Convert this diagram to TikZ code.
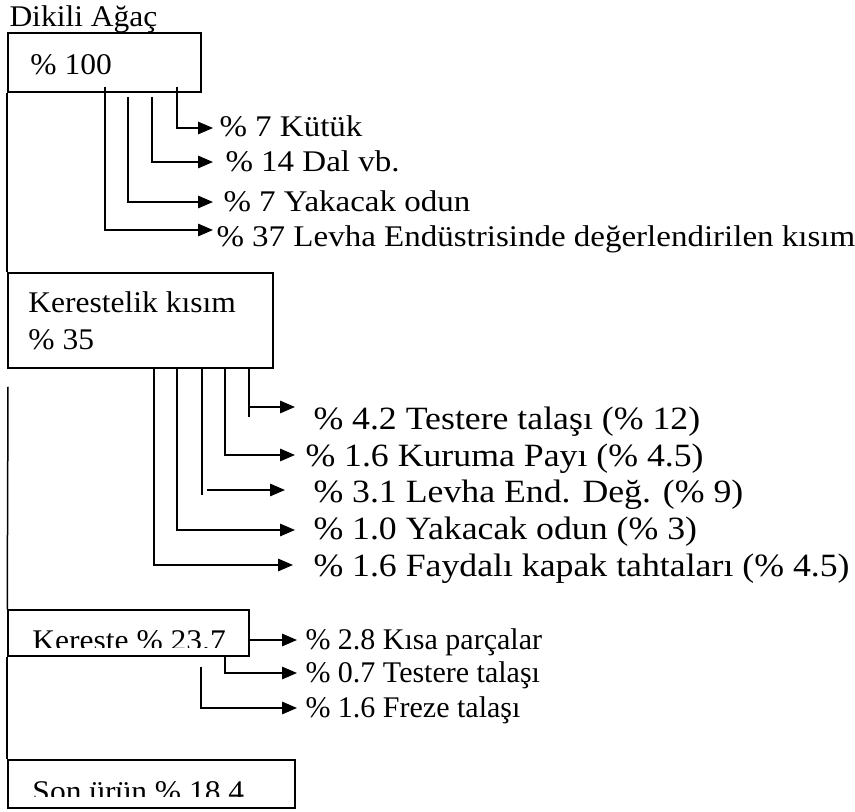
\documentclass[tikz,border=0pt]{standalone}
\usepackage{fontspec}
\setmainfont{Liberation Serif}[FakeStretch=1.05]
\newfontfamily\genis{Liberation Serif}[FakeStretch=1.1]
\newfontfamily\dar{Liberation Serif}
\usetikzlibrary{arrows.meta,fit}

\tikzset{
  kutu/.style={draw, line width=0.6pt, inner sep=0pt},
  hat/.style={line width=0.6pt},
  ok/.style={hat, -{Triangle[length=6pt,width=5pt]}},
  yazi/.style={anchor=base west, inner sep=0pt, font=\fontsize{12}{14}\selectfont},
  etiket/.style={yazi, font=\genis\fontsize{12}{14}\selectfont},
  buyuk/.style={yazi, font=\genis\fontsize{13}{15}\selectfont},
  kucuk/.style={yazi, font=\dar\fontsize{12}{14}\selectfont}
}

\begin{document}
\begin{tikzpicture}[x=0.4pt, y=-0.4pt]
\useasboundingbox (0,0) rectangle (855,812);

% baslik
\node[yazi] (baslik) at (9,27) {Dikili Ağaç};

% kutular
\node[kutu, fit={(8,33) (201,92)}] (yuz) {};
\node[yazi] (yuzyazi) at (30,75) {\% 100};
\node[kutu, fit={(8,273) (273,368)}] (kerestelik) {};
\node[yazi] (kery1) at (28,313) {Kerestelik kısım};
\node[yazi] (kery2) at (28,350) {\% 35};
\node[kutu, fit={(8,610) (249,656)}] (kereste) {};
\node[kutu, fit={(8,760) (295,808)}] (sonurun) {};
\begin{scope}
  \clip (8,600) rectangle (249,648);
  \node[yazi] (kereyazi) at (32,651) {Kereste \% 23.7};
\end{scope}
\begin{scope}
  \clip (8,750) rectangle (295,797);
  \node[yazi] (sonyazi) at (32,802) {Son ürün \% 18.4};
\end{scope}

% ana hat
\coordinate (h1) at (8,387);
\draw[hat] (yuz.south west) -- (kerestelik.north west);
\draw[hat] (h1) -- (kereste.north west);
\draw[hat] (kereste.south west) -- (sonurun.north west);

% dikili agac kayiplari
\coordinate (a1) at (213,128);
\coordinate (a2) at (213,162);
\coordinate (a3) at (213,202);
\coordinate (a4) at (213,230);
\draw[ok] (177,87) |- (a1);
\draw[ok] (152,97) |- (a2);
\draw[ok] (128,97) |- (a3);
\draw[ok] (105,87) |- (a4);
\node[etiket] (l1) at (219,137) {\% 7 Kütük};
\node[etiket] (l2) at (225,172) {\% 14 Dal vb.};
\node[etiket] (l3) at (223,212) {\% 7 Yakacak odun};
\node[etiket] (l4) at (216,247) {\% 37 Levha Endüstrisinde değerlendirilen kısım};

% kerestelik kisim kayiplari
\coordinate (b1) at (295,407);
\coordinate (b2) at (295,455);
\coordinate (b3) at (285,490);
\coordinate (b4) at (295,530);
\coordinate (b5) at (293,565);
\draw[hat] (249,368) -- (249,417);
\draw[ok] (249,407) -- (b1);
\draw[ok] (225,368) |- (b2);
\draw[hat] (202,368) -- (202,495);
\draw[ok] (207,490) -- (b3);
\draw[ok] (177,368) |- (b4);
\draw[ok] (154,368) |- (b5);
\node[buyuk] (m1) at (313,430) {\% 4.2 Testere talaşı (\% 12)};
\node[buyuk] (m2) at (305,467) {\% 1.6 Kuruma Payı (\% 4.5)};
\node[buyuk] (m3) at (313,503) {\% 3.1 Levha End. Değ. (\% 9)};
\node[buyuk] (m4) at (313,540) {\% 1.0 Yakacak odun (\% 3)};
\node[buyuk] (m5) at (313,577) {\% 1.6 Faydalı kapak tahtaları (\% 4.5)};

% kereste kayiplari
\coordinate (c1) at (297,640);
\coordinate (c2) at (297,673);
\coordinate (c3) at (297,708);
\draw[ok] (kereste.east |- c1) -- (c1);
\draw[ok] (225,656) |- (c2);
\draw[ok] (201,667) |- (c3);
\node[kucuk] (n1) at (305,650) {\% 2.8 Kısa parçalar};
\node[kucuk] (n2) at (305,683) {\% 0.7 Testere talaşı};
\node[kucuk] (n3) at (305,718) {\% 1.6 Freze talaşı};
\end{tikzpicture}
\end{document}
